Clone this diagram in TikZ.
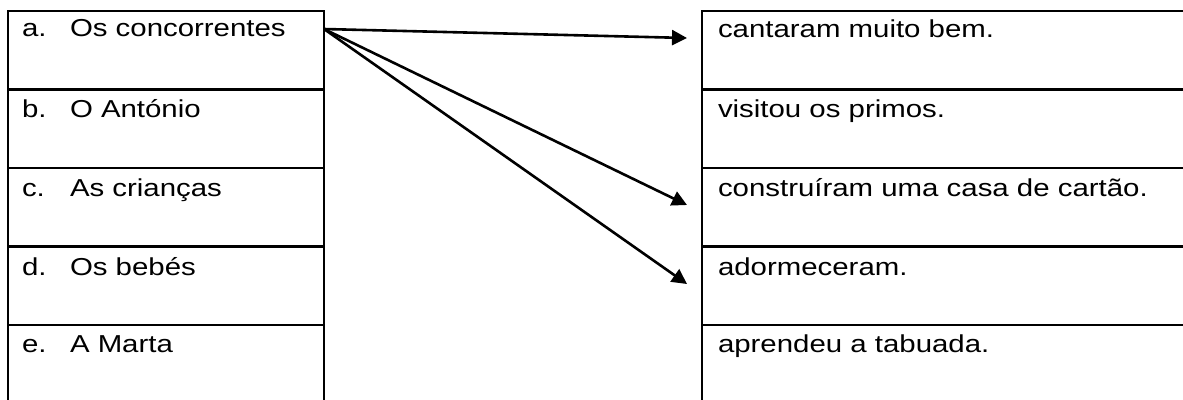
\documentclass[tikz,border=0pt]{standalone}
\usepackage{fontspec}
\setmainfont{Liberation Sans}
\usetikzlibrary{arrows.meta,calc}
\newcommand{\wtxt}[1]{\scalebox{1.2}[1]{\fontsize{24.5}{28}\selectfont #1}}
\begin{document}
\begin{tikzpicture}[x=1pt,y=-1pt,
  cell/.style={draw,line width=2.6pt,inner sep=0pt,outer sep=0pt,anchor=north west,minimum height=78.5pt},
  lcell/.style={cell,minimum width=316pt},
  rcell/.style={cell,minimum width=600pt},
  lbl/.style={anchor=base west,inner sep=0pt,outer sep=0pt},
  link/.style={line width=2.6pt,-{Triangle[length=15pt,width=15pt]}}]
\useasboundingbox (0,0) rectangle (1183,399);
\clip (0,0) rectangle (1183,399);
% left column cells
\node[lcell] (la) at (8,11) {};
\node[lcell] (lb) at (8,89.5) {};
\node[lcell] (lc) at (8,168) {};
\node[lcell] (ld) at (8,246.5) {};
\node[lcell] (le) at (8,325) {};
% right column cells
\node[rcell] (ra) at (702,11) {};
\node[rcell] (rb) at (702,89.5) {};
\node[rcell] (rc) at (702,168) {};
\node[rcell] (rd) at (702,246.5) {};
\node[rcell] (re) at (702,325) {};
% left texts
\node[lbl] (ma) at (22,36) {\wtxt{a.}};
\node[lbl] (ta) at (70,36) {\wtxt{Os concorrentes}};
\node[lbl] (mb) at (22,117) {\wtxt{b.}};
\node[lbl] (tb) at (70,117) {\wtxt{O António}};
\node[lbl] (mc) at (22,196) {\wtxt{c.}};
\node[lbl] (tc) at (70,196) {\wtxt{As crianças}};
\node[lbl] (md) at (22,275) {\wtxt{d.}};
\node[lbl] (td) at (70,275) {\wtxt{Os bebés}};
\node[lbl] (me) at (22,352) {\wtxt{e.}};
\node[lbl] (te) at (70,352) {\wtxt{A Marta}};
% right texts
\node[lbl] (xa) at (718,37) {\wtxt{cantaram muito bem.}};
\node[lbl] (xb) at (718,117) {\wtxt{visitou os primos.}};
\node[lbl] (xc) at (718,196) {\wtxt{construíram uma casa de cartão.}};
\node[lbl] (xd) at (718,275) {\wtxt{adormeceram.}};
\node[lbl] (xe) at (718,352) {\wtxt{aprendeu a tabuada.}};
% connectors
\coordinate (s) at ($(la.north east)+(0,18)$);
\coordinate (e1) at ($(ra.north west)+(-15,27)$);
\coordinate (e2) at ($(rc.north west)+(-15,37)$);
\coordinate (e3) at ($(rd.north west)+(-15,37.5)$);
\draw[link] (s) -- (e1);
\draw[link] (s) -- (e2);
\draw[link] (s) -- (e3);
\end{tikzpicture}
\end{document}
